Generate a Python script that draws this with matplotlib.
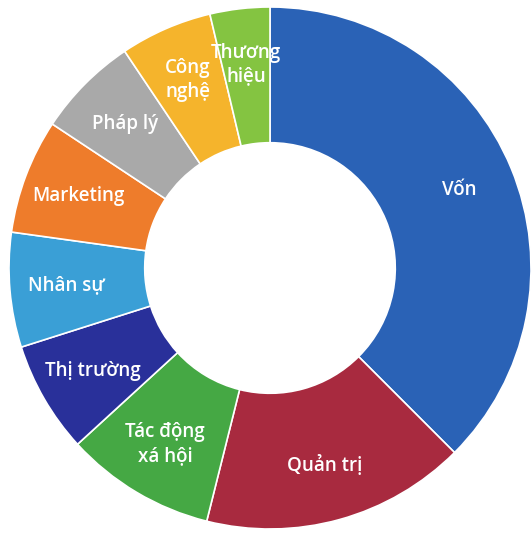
import matplotlib.pyplot as plt

labels = ['Vốn', 'Quản trị', 'Tác động\nxá hội', 'Thị trường', 'Nhân sự',
          'Marketing', 'Pháp lý', 'Công\nnghệ', 'Thương\nhiệu']
values = [37.5, 16.4, 9.3, 6.9, 7.1, 7.1, 6.3, 5.7, 3.7]
colors = ['#2a62b6', '#a82a3f', '#45a844', '#29309a', '#3a9fd6',
          '#ee7c2b', '#a9a9a9', '#f5b42c', '#84c441']

fig = plt.figure(figsize=(5.32, 5.35), dpi=100)
ax = fig.add_axes([0, 0, 1, 1])

R = 261
ax.pie(values, labels=labels, colors=colors, startangle=90, counterclock=False,
       radius=1, labeldistance=0.785,
       wedgeprops=dict(width=0.52, edgecolor='white', linewidth=1.2),
       textprops=dict(color='white', fontsize=13.5, family='Open Sans',
                      fontweight='semibold', ha='center', va='center',
                      linespacing=1.25))

# keep the same pixel scale on both axes, center at (270, 268) from top-left
ax.set_xlim(-270 / R, (532 - 270) / R)
ax.set_ylim(-(535 - 268) / R, 268 / R)
ax.set_aspect('auto')
ax.axis('off')

fig.savefig('out.png', dpi=100)
